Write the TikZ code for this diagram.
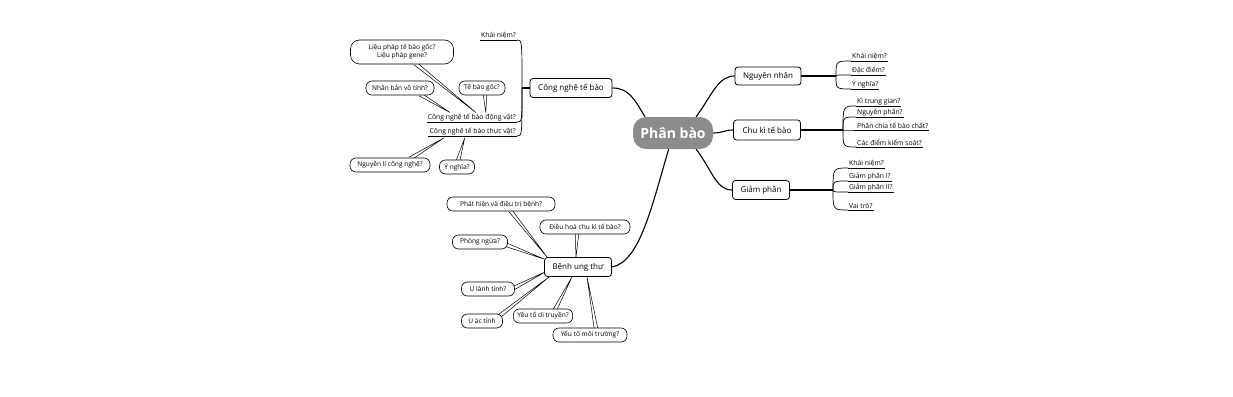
\documentclass[tikz,border=0pt]{standalone}
\usepackage{fontspec}
\setmainfont{Open Sans}
\usetikzlibrary{calc,backgrounds}
\tikzset{
  pill/.style={fill=black!45, text=white, rounded corners=13pt, minimum width=80pt, minimum height=32pt, inner sep=2pt, font=\fontsize{14}{16}\selectfont\bfseries},
  topic/.style={draw, rounded corners=3pt, line width=0.8pt, fill=white, font=\fontsize{8}{9}\selectfont, inner sep=2pt, minimum height=19pt},
  leaf/.style={inner sep=1pt, font=\fontsize{6.8}{8}\selectfont},
  bubble/.style={draw, rounded corners=6pt, line width=0.6pt, fill=white, font=\fontsize{6.6}{8}\selectfont, inner xsep=4pt, inner ysep=2pt, minimum height=14pt, align=center},
  mainline/.style={line width=1.1pt},
  subline/.style={line width=0.7pt},
  wedgeline/.style={fill=white, draw=black, line width=0.5pt, line join=round},
}
\newcommand\wedgeto[2]{\filldraw[wedgeline] ($(#1)!1.8pt!90:(#2)$) -- (#2) -- ($(#1)!1.8pt!-90:(#2)$);}
\newcommand\leafline[2]{\draw[subline] (#1) .. controls (#1 |- #2) .. (#2);}
\begin{document}
\begin{tikzpicture}[x=1pt,y=-1pt]
\useasboundingbox (0,0) rectangle (1233,396);
% central
\node[pill] (c) at (673,133) {Phân bào};
% main topics
\node[topic, minimum width=82pt] (cnt) at (571,88) {Công nghệ tế bào};
\node[topic, minimum width=66pt, minimum height=18pt] (nn) at (768,76) {Nguyên nhân};
\node[topic, minimum width=67pt, minimum height=20pt] (ck) at (767,130) {Chu kì tế bào};
\node[topic, minimum width=57pt] (gp) at (761,190) {Giảm phân};
\node[topic, minimum width=67pt] (ut) at (578,267) {Bệnh ung thư};
% junctions
\coordinate (nnj) at (836,76);
\coordinate (ckj) at (843,130);
\coordinate (gpj) at (833,190);
\coordinate (cntj) at (522,88);
% leaves Nguyen nhan
\node[leaf, anchor=south west] (nn1) at (851,61) {Khái niệm?};
\node[leaf, anchor=south west] (nn2) at (851,75) {Đặc điểm?};
\node[leaf, anchor=south west] (nn3) at (851,89) {Ý nghĩa?};
% leaves Chu ki
\node[leaf, anchor=south west] (ck1) at (856,106) {Kì trung gian?};
\node[leaf, anchor=south west] (ck2) at (856,117) {Nguyên phân?};
\node[leaf, anchor=south west] (ck3) at (856,130) {Phân chia tế bào chất?};
\node[leaf, anchor=south west] (ck4) at (856,147) {Các điểm kiểm soát?};
% leaves Giam phan
\node[leaf, anchor=south west] (gp1) at (848,168) {Khái niệm?};
\node[leaf, anchor=south west] (gp2) at (848,181) {Giảm phân I?};
\node[leaf, anchor=south west] (gp3) at (848,192) {Giảm phân II?};
\node[leaf, anchor=south west] (gp4) at (848,210) {Vai trò?};
% leaves Cong nghe
\node[leaf, anchor=south east] (cn1) at (517,40) {Khái niệm?};
\node[leaf, anchor=south east] (cn2) at (517,122) {Công nghệ tế bào động vật?};
\node[leaf, anchor=south east] (cn3) at (517,136) {Công nghệ tế bào thực vật?};
% bubbles Cong nghe
\node[bubble, minimum width=103pt, minimum height=24pt, rounded corners=9pt] (lp) at (402,52) {Liệu pháp tế bào gốc?\\Liệu pháp gene?};
\node[bubble, minimum width=68pt] (nb) at (400,88) {Nhân bản vô tính?};
\node[bubble, minimum width=46pt] (tbg) at (482,88) {Tế bào gốc?};
\node[bubble, minimum width=80pt] (nl) at (390,165) {Nguyên lí công nghệ?};
\node[bubble, minimum width=35pt] (yn) at (457,167) {Ý nghĩa?};
% bubbles Benh ung thu
\node[bubble, minimum width=108pt] (ph) at (501,204) {Phát hiện và điều trị bệnh?};
\node[bubble, minimum width=90pt] (dh) at (585,227) {Điều hoà chu kì tế bào?};
\node[bubble, minimum width=55pt] (pn) at (480,242) {Phòng ngừa?};
\node[bubble, minimum width=53pt] (ul) at (488,289) {U lành tính?};
\node[bubble, minimum width=41pt] (ua) at (482,321) {U ác tính};
\node[bubble, minimum width=57pt] (yd) at (543,316) {Yếu tố di truyền?};
\node[bubble, minimum width=74pt] (ym) at (590,335) {Yếu tố môi trường?};
% wedge end points
\coordinate (lps) at ($(lp.south)+(13,-1)$);
\coordinate (nbs) at ($(nb.south)+(20,-1)$);
\coordinate (tbgs) at ($(tbg.south)+(3,-1)$);
\coordinate (cnta) at ($(cn2.north)+(-22,0)$);
\coordinate (cntb) at ($(cn2.north)+(4,0)$);
\coordinate (cntc) at ($(cn2.north)+(14,0)$);
\coordinate (nls) at ($(nl.north)+(20,1)$);
\coordinate (yns) at ($(yn.north)+(1,1)$);
\coordinate (cnva) at ($(cn3.south)+(-29,2)$);
\coordinate (cnvb) at ($(cn3.south)+(-8,2)$);
\coordinate (phs) at ($(ph.south)+(9,-1)$);
\coordinate (dhs) at ($(dh.south)+(-8,-1)$);
\coordinate (pns) at ($(pn.east)+(-1,3)$);
\coordinate (uls) at ($(ul.east)+(-1,-1)$);
\coordinate (uas) at ($(ua.north east)+(-3,2)$);
\coordinate (yds) at ($(yd.north)+(12,1)$);
\coordinate (yms) at ($(ym.north)+(6,1)$);
\coordinate (uta) at ($(ut.north west)+(3,0)$);
\coordinate (utb) at ($(ut.north)+(-2,0)$);
\coordinate (utc) at ($(ut.north west)+(0,2)$);
\coordinate (utd) at ($(ut.west)+(1,5)$);
\coordinate (ute) at ($(ut.south west)+(5,0)$);
\coordinate (utf) at ($(ut.south)+(-6,0)$);
\coordinate (utg) at ($(ut.south)+(9,0)$);
\begin{scope}[on background layer]
% main connectors
\draw[mainline] (c.150) .. controls (634,98) and (628,88) .. (cnt.east);
\draw[mainline] (c.35) .. controls (712,95) and (718,76) .. (nn.west);
\draw[mainline] (c.east) .. controls (723,133) and (724,130) .. (ck.west);
\draw[mainline] (c.-35) .. controls (712,170) and (716,190) .. (gp.west);
\draw[mainline] (c.-105) .. controls (652,205) and (640,262) .. (ut.east);
% sub connectors
\draw[mainline] (nn.east) -- (nnj);
\draw[mainline] (ck.east) -- (ckj);
\draw[mainline] (gp.east) -- (gpj);
\draw[mainline] (cnt.west) -- (cntj);
\leafline{nnj}{nn1.south west} \draw[subline] (nn1.south west) -- (nn1.south east);
\leafline{nnj}{nn2.south west} \draw[subline] (nn2.south west) -- (nn2.south east);
\leafline{nnj}{nn3.south west} \draw[subline] (nn3.south west) -- (nn3.south east);
\leafline{ckj}{ck1.south west} \draw[subline] (ck1.south west) -- (ck1.south east);
\leafline{ckj}{ck2.south west} \draw[subline] (ck2.south west) -- (ck2.south east);
\leafline{ckj}{ck3.south west} \draw[subline] (ck3.south west) -- (ck3.south east);
\leafline{ckj}{ck4.south west} \draw[subline] (ck4.south west) -- (ck4.south east);
\leafline{gpj}{gp1.south west} \draw[subline] (gp1.south west) -- (gp1.south east);
\leafline{gpj}{gp2.south west} \draw[subline] (gp2.south west) -- (gp2.south east);
\leafline{gpj}{gp3.south west} \draw[subline] (gp3.south west) -- (gp3.south east);
\leafline{gpj}{gp4.south west} \draw[subline] (gp4.south west) -- (gp4.south east);
\leafline{cntj}{cn1.south east} \draw[subline] (cn1.south east) -- (cn1.south west);
\leafline{cntj}{cn2.south east} \draw[subline] (cn2.south east) -- (cn2.south west);
\leafline{cntj}{cn3.south east} \draw[subline] (cn3.south east) -- (cn3.south west);
% callout wedges
\wedgeto{lps}{cntb}
\wedgeto{nbs}{cnta}
\wedgeto{tbgs}{cntc}
\wedgeto{nls}{cnva}
\wedgeto{yns}{cnvb}
\wedgeto{phs}{uta}
\wedgeto{dhs}{utb}
\wedgeto{pns}{utc}
\wedgeto{uls}{utd}
\wedgeto{uas}{ute}
\wedgeto{yds}{utf}
\wedgeto{yms}{utg}
\end{scope}
\end{tikzpicture}
\end{document}
